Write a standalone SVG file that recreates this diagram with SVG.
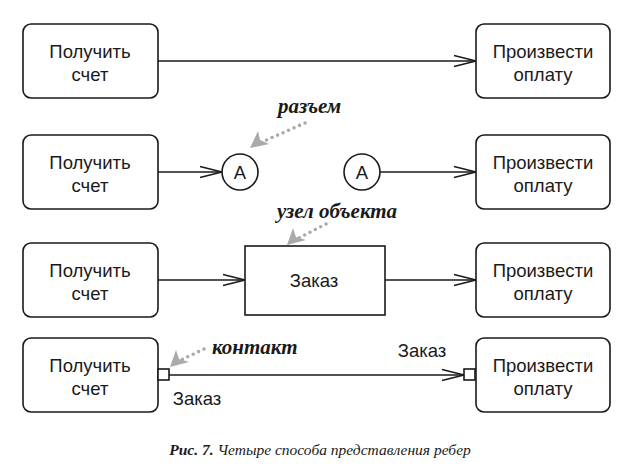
<svg xmlns="http://www.w3.org/2000/svg" width="634" height="466" viewBox="0 0 634 466">
<defs>
<style>
.node{fill:#fff;stroke:#1a1a1a;stroke-width:1.6}
.t{font-family:"Liberation Sans",Arial,sans-serif;font-size:18.5px;fill:#1a1a1a;text-anchor:middle}
.edge{fill:none;stroke:#1a1a1a;stroke-width:1.4}
.head{fill:none;stroke:#1a1a1a;stroke-width:1.4}
.note{font-family:"Liberation Serif","DejaVu Serif",serif;font-style:italic;font-weight:bold;font-size:21px;fill:#1a1a1a}
.dots{fill:none;stroke:#aaa;stroke-width:3.6;stroke-linecap:round;stroke-dasharray:0 6}
.ghead{fill:#aaa}
.cap{font-family:"Liberation Serif","Times New Roman",serif;font-style:italic;font-size:15.5px;fill:#1a1a1a}
</style>
<marker id="open" viewBox="0 0 24 14" refX="23" refY="7" markerWidth="24" markerHeight="14" markerUnits="userSpaceOnUse" orient="auto">
<path d="M1,1.5 L23,7 L1,12.5" class="head"/>
</marker>
</defs>

<g id="connectors">
<line class="edge" x1="158" y1="61" x2="476" y2="61" marker-end="url(#open)"/>
<line class="edge" x1="158" y1="172" x2="222" y2="172" marker-end="url(#open)"/>
<line class="edge" x1="380" y1="172" x2="476" y2="172" marker-end="url(#open)"/>
<line class="edge" x1="158" y1="280" x2="245" y2="280" marker-end="url(#open)"/>
<line class="edge" x1="385" y1="280" x2="476" y2="280" marker-end="url(#open)"/>
<line class="edge" x1="169" y1="375" x2="464" y2="375" marker-end="url(#open)"/>
</g>

<g id="row1-get">
<rect class="node" x="23" y="24" width="135" height="74" rx="8"/>
<text class="t" x="90" y="58">Получить</text>
<text class="t" x="90" y="81">счет</text>
</g>
<g id="row1-pay">
<rect class="node" x="476" y="24" width="134" height="74" rx="8"/>
<text class="t" x="543" y="58">Произвести</text>
<text class="t" x="543" y="81">оплату</text>
</g>

<g id="row2-get">
<rect class="node" x="23" y="135" width="135" height="74" rx="8"/>
<text class="t" x="90" y="169">Получить</text>
<text class="t" x="90" y="192">счет</text>
</g>
<g id="row2-connectorA1">
<circle class="node" cx="240" cy="172" r="18"/>
<text class="t" x="240" y="179">A</text>
</g>
<g id="row2-connectorA2">
<circle class="node" cx="362" cy="172" r="18"/>
<text class="t" x="362" y="179">A</text>
</g>
<g id="row2-pay">
<rect class="node" x="476" y="135" width="134" height="74" rx="8"/>
<text class="t" x="543" y="169">Произвести</text>
<text class="t" x="543" y="192">оплату</text>
</g>

<g id="row3-get">
<rect class="node" x="23" y="243" width="135" height="74" rx="8"/>
<text class="t" x="90" y="277">Получить</text>
<text class="t" x="90" y="300">счет</text>
</g>
<g id="row3-order">
<rect class="node" x="245" y="246" width="140" height="69"/>
<text class="t" x="314" y="287">Заказ</text>
</g>
<g id="row3-pay">
<rect class="node" x="476" y="243" width="134" height="74" rx="8"/>
<text class="t" x="543" y="277">Произвести</text>
<text class="t" x="543" y="300">оплату</text>
</g>

<g id="row4-get">
<rect class="node" x="23" y="338" width="135" height="74" rx="8"/>
<text class="t" x="90" y="372">Получить</text>
<text class="t" x="90" y="395">счет</text>
<rect class="node" x="158" y="369" width="11" height="11"/>
<text class="t" x="197" y="405">Заказ</text>
</g>
<g id="row4-pay">
<rect class="node" x="476" y="338" width="134" height="74" rx="8"/>
<text class="t" x="543" y="372">Произвести</text>
<text class="t" x="543" y="395">оплату</text>
<rect class="node" x="464" y="369" width="11" height="11"/>
<text class="t" x="422" y="357">Заказ</text>
</g>

<g id="notes">
<text class="note" x="278" y="113">разъем</text>
<path class="dots" d="M305,123 L262,142"/>
<path class="ghead" d="M250,148 L258,131 L260,140 L269,144 Z"/>
<text class="note" x="277" y="218">узел объекта</text>
<path class="dots" d="M326,224 L297,239"/>
<path class="ghead" d="M287,245 L293,228 L296,237 L306,240 Z"/>
<text class="note" x="212" y="354">контакт</text>
<path class="dots" d="M204,349 L181,360"/>
<path class="ghead" d="M170,367 L176,350 L179,359 L189,362 Z"/>
</g>

<text class="cap" x="320" y="455" text-anchor="middle"><tspan font-weight="bold">Рис. 7.</tspan> Четыре способа представления ребер</text>
</svg>
